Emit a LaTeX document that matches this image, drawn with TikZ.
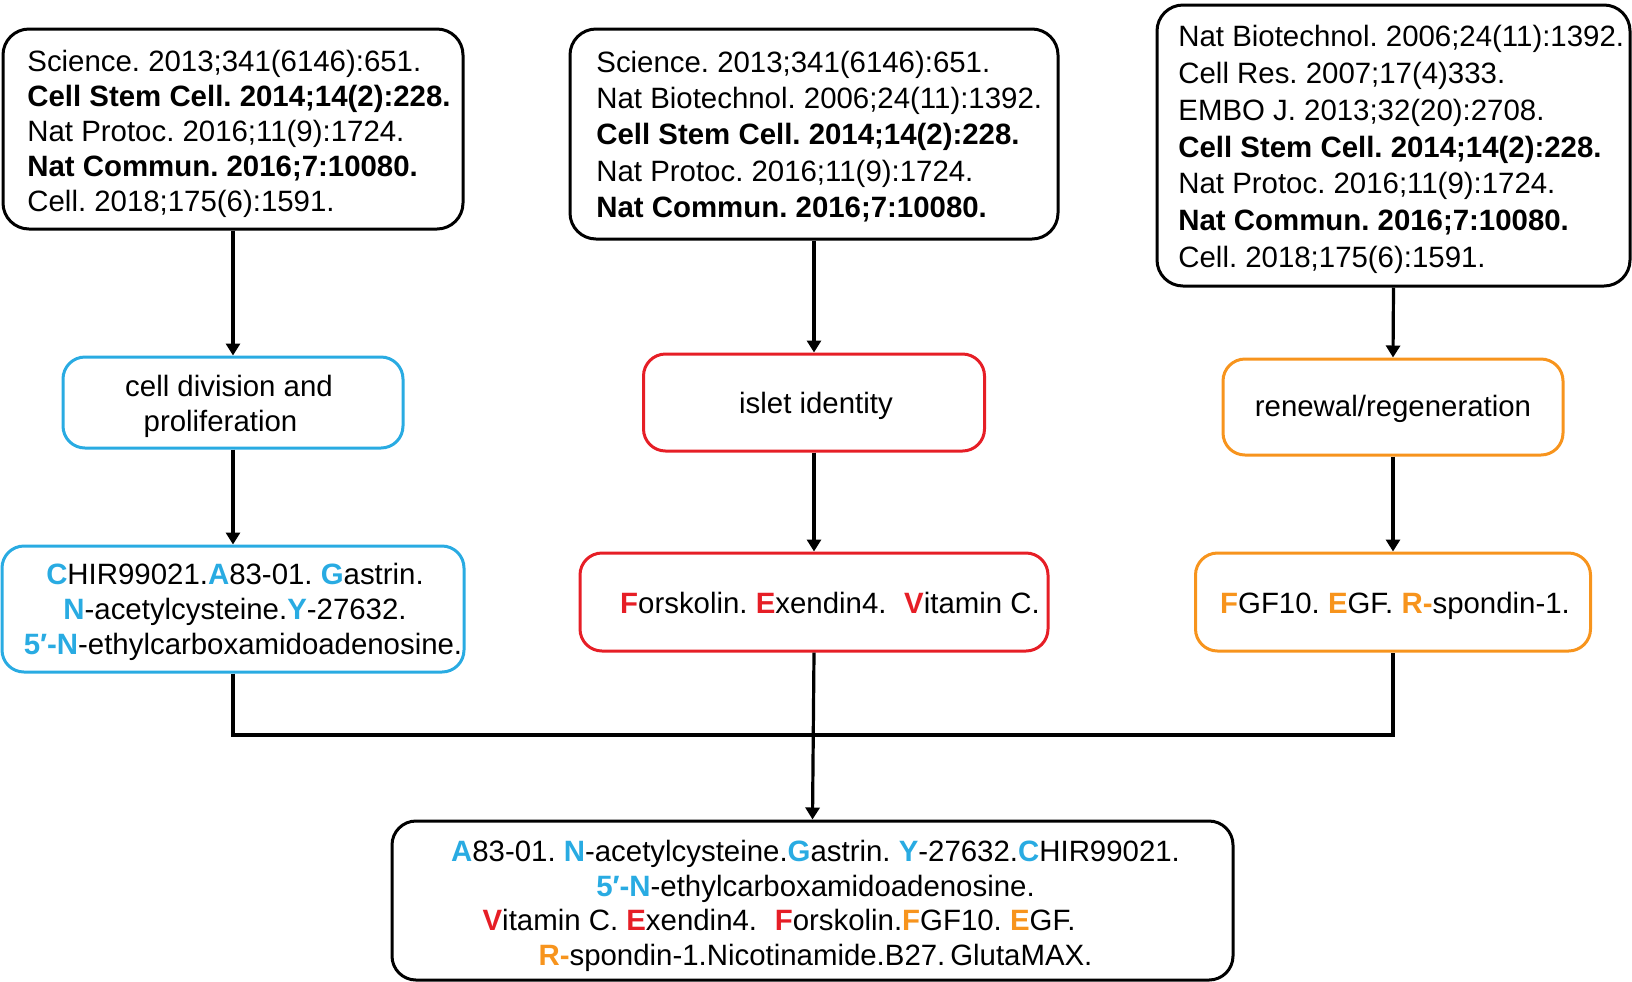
\documentclass[tikz,border=0pt]{standalone}
\usepackage{fontspec}
\setmainfont{Liberation Sans}
\usetikzlibrary{arrows.meta}
\definecolor{blueC}{RGB}{41,171,226}
\definecolor{redC}{RGB}{230,30,38}
\definecolor{orangeC}{RGB}{247,148,29}
\newcommand\hlb[1]{\textcolor{blueC}{\textbf{#1}}}
\newcommand\hlr[1]{\textcolor{redC}{\textbf{#1}}}
\newcommand\hlo[1]{\textcolor{orangeC}{\textbf{#1}}}
\frenchspacing
\begin{document}
\frenchspacing
\begin{tikzpicture}[x=0.5pt,y=-0.5pt,
  box/.style={draw, line width=1.5pt, rounded corners=11pt, inner sep=0pt},
  refbox/.style={box, draw=black, rounded corners=13pt},
  bluebox/.style={box, draw=blueC},
  redbox/.style={box, draw=redC},
  orangebox/.style={box, draw=orangeC},
  lbl/.style={inner sep=0pt, align=center, font=\fontsize{14.7pt}{17.5pt}\selectfont},
  reftext/.style={inner sep=0pt, align=left, anchor=west},
  arr/.style={line width=1.6pt, -{Triangle[length=6pt,width=7pt]}},
  conn/.style={line width=1.6pt}]
\useasboundingbox (0,0) rectangle (1632,981);

% top reference boxes
\node[refbox, minimum width=230pt, minimum height=100pt] (b1) at (233,129) {};
\node[reftext, font=\fontsize{14.7pt}{17.45pt}\selectfont] (b1t) at (27,134) {Science. 2013;341(6146):651.\\
\textbf{Cell Stem Cell. 2014;14(2):228.}\\
Nat Protoc. 2016;11(9):1724.\\
\textbf{Nat Commun. 2016;7:10080.}\\
Cell. 2018;175(6):1591.};

\node[refbox, minimum width=244pt, minimum height=105pt] (b2) at (814,134) {};
\node[reftext, font=\fontsize{14.7pt}{18.2pt}\selectfont] (b2t) at (596,136.6) {Science. 2013;341(6146):651.\\
Nat Biotechnol. 2006;24(11):1392.\\
\textbf{Cell Stem Cell. 2014;14(2):228.}\\
Nat Protoc. 2016;11(9):1724.\\
\textbf{Nat Commun. 2016;7:10080.}};

\node[refbox, minimum width=236.5pt, minimum height=140.5pt] (b3) at (1393.5,145.5) {};
\node[reftext, font=\fontsize{14.7pt}{18.4pt}\selectfont] (b3t) at (1178,149.5) {Nat Biotechnol. 2006;24(11):1392.\\
Cell Res. 2007;17(4)333.\\
EMBO J. 2013;32(20):2708.\\
\textbf{Cell Stem Cell. 2014;14(2):228.}\\
Nat Protoc. 2016;11(9):1724.\\
\textbf{Nat Commun. 2016;7:10080.}\\
Cell. 2018;175(6):1591.};

% middle row
\node[bluebox, minimum width=170pt, minimum height=45.5pt] (m1) at (233,402.5) {};
\node[lbl] (m1t) at ([xshift=-2pt,yshift=-2pt]m1.center) {cell division and\\proliferation\rule{8.5pt}{0pt}};
\node[redbox, minimum width=170.5pt, minimum height=48.5pt] (m2) at (814,402.5) {};
\node[lbl] (m2t) at ([xshift=1pt,yshift=-1.5pt]m2.center) {islet identity};
\node[orangebox, minimum width=170pt, minimum height=48pt] (m3) at (1393,407) {};
\node[lbl] (m3t) at ([yshift=-1pt]m3.center) {renewal/regeneration};

% third row
\node[bluebox, minimum width=231pt, minimum height=63pt] (t1) at (233,609) {};
\node[lbl] (t1t) at ([xshift=1pt,yshift=-1.3pt]t1.center)
  {\hlb{C}HIR99021.\hlb{A}83-01. \hlb{G}astrin.\\
   \hlb{N}-acetylcysteine.\hlb{Y}-27632.\\
   \hspace*{8pt}\hlb{5′-N}-ethylcarboxamidoadenosine.};
\node[redbox, minimum width=234pt, minimum height=49pt] (t2) at (814,602) {};
\node[lbl] (t2t) at ([xshift=8pt,yshift=-0.6pt]t2.center)
  {\hlr{F}orskolin. \hlr{E}xendin4.\hspace{0.6em}\hlr{V}itamin C.};
\node[orangebox, minimum width=197.5pt, minimum height=49pt] (t3) at (1393,602) {};
\node[lbl] (t3t) at ([xshift=1pt,yshift=-2pt]t3.center)
  {\hlo{F}GF10. \hlo{E}GF. \hlo{R-}spondin-1.};

% bottom box
\node[refbox, rounded corners=12pt, minimum width=420.5pt, minimum height=79.5pt] (bot) at (812.5,900.5) {};
\node[lbl, font=\fontsize{14.7pt}{17.2pt}\selectfont] (bott) at ([xshift=1.5pt,yshift=-2.7pt]bot.center)
  {\hlb{A}83-01. \hlb{N}-acetylcysteine.\hlb{G}astrin. \hlb{Y}-27632.\hlb{C}HIR99021.\\
   \hlb{5′-N}-ethylcarboxamidoadenosine.\\
   \hlr{V}itamin C. \hlr{E}xendin4.\hspace{0.6em}\hlr{F}orskolin.\hlo{F}GF10. \hlo{E}GF.\rule{36.5pt}{0pt}\\
   \hlo{R-}spondin-1.Nicotinamide.B27.\,GlutaMAX.};

% connectors
\draw[arr] (b1.south) -- (m1.north);
\draw[arr] (b2.south) -- (m2.north);
\draw[arr] (b3.south) -- (m3.north);
\draw[arr] (m1.south) -- (t1.north);
\draw[arr] (m2.south) -- (t2.north);
\draw[arr] (m3.south) -- (t3.north);
\coordinate (join) at (814,735);
\draw[conn] (t1.south) -- (t1.south |- join) -- (t3.south |- join) -- (t3.south);
\draw[arr] (t2.south) -- (bot.north);
\end{tikzpicture}
\end{document}
